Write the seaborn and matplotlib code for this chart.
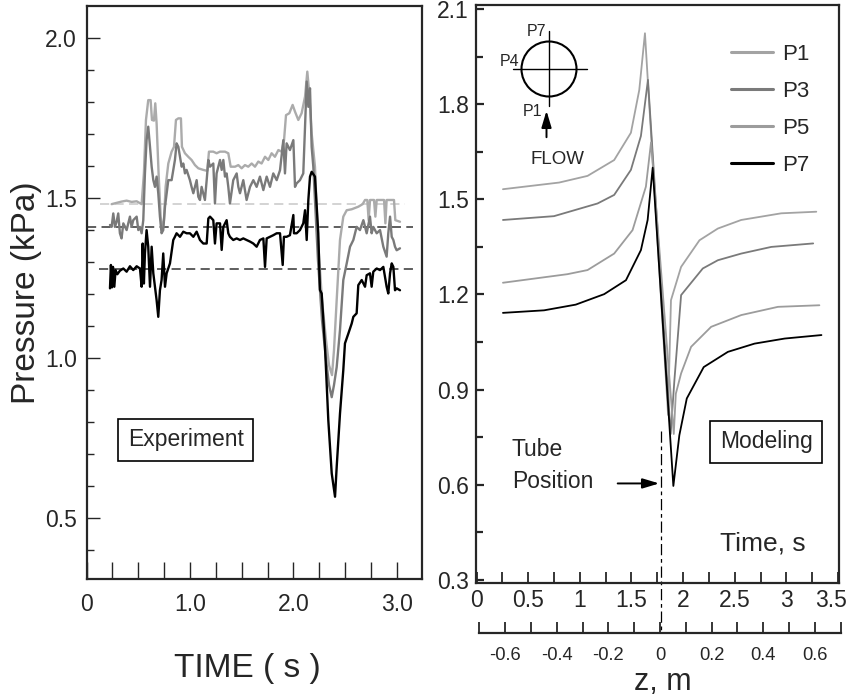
import numpy as np
import pandas as pd
import matplotlib
matplotlib.use("Agg")
import matplotlib.pyplot as plt
import seaborn as sns
from matplotlib.patches import Ellipse
from matplotlib.lines import Line2D
from matplotlib.transforms import ScaledTranslation

sns.set_style("ticks")
plt.rcParams['font.family'] = ['Liberation Sans', 'DejaVu Sans']

# ----------------------------- experiment data -----------------------------
exp_light_t = [0.242, 0.290, 0.338, 0.387, 0.435, 0.484, 0.532, 0.554, 0.574, 0.596, 0.619, 0.632,
               0.651, 0.664, 0.677, 0.696, 0.716, 0.732, 0.748, 0.764, 0.790, 0.822, 0.845, 0.864,
               0.887, 0.912, 0.922, 0.951, 0.983, 1.015, 1.048, 1.080, 1.128, 1.167, 1.183, 1.225,
               1.257, 1.290, 1.338, 1.370, 1.393, 1.435, 1.467, 1.499, 1.531, 1.563, 1.596, 1.628,
               1.660, 1.692, 1.725, 1.757, 1.789, 1.821, 1.854, 1.886, 1.909, 1.928, 1.960, 1.992,
               2.015, 2.047, 2.079, 2.112, 2.134, 2.153, 2.176, 2.208, 2.237, 2.276, 2.315, 2.344,
               2.373, 2.392, 2.418, 2.450, 2.482, 2.515, 2.563, 2.627, 2.669, 2.692, 2.714, 2.727,
               2.740, 2.779, 2.792, 2.805, 2.876, 2.889, 2.901, 2.972, 2.985, 3.030]
exp_light_p = [1.481, 1.485, 1.489, 1.492, 1.488, 1.490, 1.481, 1.577, 1.744, 1.806, 1.806, 1.744,
               1.742, 1.796, 1.733, 1.577, 1.442, 1.400, 1.431, 1.535, 1.608, 1.645, 1.660, 1.744,
               1.749, 1.749, 1.660, 1.640, 1.629, 1.619, 1.603, 1.593, 1.588, 1.585, 1.645, 1.645,
               1.640, 1.645, 1.645, 1.640, 1.598, 1.598, 1.603, 1.593, 1.603, 1.598, 1.608, 1.598,
               1.614, 1.608, 1.629, 1.619, 1.640, 1.629, 1.650, 1.645, 1.681, 1.759, 1.765, 1.791,
               1.770, 1.744, 1.765, 1.817, 1.895, 1.827, 1.702, 1.598, 1.369, 1.181, 1.056, 0.978,
               0.947, 1.025, 1.181, 1.369, 1.442, 1.462, 1.465, 1.473, 1.481, 1.494, 1.494, 1.431,
               1.494, 1.494, 1.442, 1.494, 1.494, 1.421, 1.494, 1.494, 1.431, 1.426]

exp_mid_t = [0.226, 0.242, 0.258, 0.274, 0.290, 0.306, 0.322, 0.338, 0.355, 0.387, 0.419, 0.435,
             0.451, 0.484, 0.500, 0.516, 0.532, 0.548, 0.564, 0.580, 0.596, 0.613, 0.629, 0.645,
             0.661, 0.677, 0.693, 0.709, 0.725, 0.741, 0.758, 0.790, 0.822, 0.854, 0.870, 0.887,
             0.903, 0.919, 0.935, 0.951, 0.967, 0.999, 1.015, 1.032, 1.064, 1.080, 1.096, 1.112,
             1.144, 1.161, 1.177, 1.193, 1.225, 1.241, 1.257, 1.290, 1.306, 1.322, 1.338, 1.354,
             1.370, 1.386, 1.418, 1.451, 1.467, 1.483, 1.515, 1.547, 1.580, 1.612, 1.644, 1.676,
             1.709, 1.741, 1.773, 1.805, 1.838, 1.870, 1.902, 1.918, 1.934, 1.966, 1.999, 2.015,
             2.031, 2.063, 2.095, 2.112, 2.128, 2.144, 2.160, 2.176, 2.192, 2.237, 2.276, 2.315,
             2.344, 2.370, 2.392, 2.418, 2.450, 2.482, 2.515, 2.547, 2.579, 2.611, 2.643, 2.676,
             2.708, 2.740, 2.756, 2.772, 2.805, 2.837, 2.869, 2.901, 2.917, 2.934, 2.950, 2.966,
             2.982, 2.998, 3.030]
exp_mid_p = [1.416, 1.410, 1.452, 1.410, 1.426, 1.452, 1.390, 1.374, 1.421, 1.400, 1.442, 1.410,
             1.431, 1.442, 1.400, 1.410, 1.390, 1.431, 1.577, 1.681, 1.723, 1.660, 1.598, 1.556,
             1.535, 1.567, 1.515, 1.442, 1.390, 1.400, 1.473, 1.556, 1.556, 1.619, 1.671, 1.660,
             1.629, 1.598, 1.608, 1.577, 1.588, 1.556, 1.535, 1.515, 1.556, 1.504, 1.494, 1.535,
             1.494, 1.556, 1.619, 1.598, 1.608, 1.483, 1.577, 1.619, 1.588, 1.619, 1.567, 1.577,
             1.535, 1.483, 1.556, 1.577, 1.535, 1.515, 1.556, 1.494, 1.535, 1.556, 1.535, 1.567,
             1.525, 1.567, 1.535, 1.577, 1.556, 1.587, 1.681, 1.577, 1.671, 1.650, 1.681, 1.535,
             1.546, 1.556, 1.577, 1.723, 1.864, 1.785, 1.843, 1.660, 1.598, 1.306, 1.119, 0.994,
             0.916, 0.878, 0.916, 0.972, 1.088, 1.244, 1.296, 1.348, 1.369, 1.410, 1.400, 1.431,
             1.390, 1.442, 1.390, 1.410, 1.390, 1.400, 1.348, 1.317, 1.390, 1.442, 1.379, 1.369,
             1.348, 1.337, 1.343]

exp_dark_t = [0.226, 0.235, 0.245, 0.255, 0.268, 0.280, 0.297, 0.322, 0.355, 0.387, 0.419, 0.451,
              0.484, 0.516, 0.532, 0.542, 0.554, 0.564, 0.580, 0.596, 0.613, 0.629, 0.645, 0.661,
              0.677, 0.693, 0.709, 0.725, 0.741, 0.758, 0.774, 0.806, 0.838, 0.854, 0.870, 0.903,
              0.935, 0.967, 0.999, 1.032, 1.064, 1.096, 1.128, 1.161, 1.177, 1.193, 1.225, 1.241,
              1.257, 1.290, 1.306, 1.322, 1.354, 1.370, 1.386, 1.418, 1.451, 1.483, 1.515, 1.547,
              1.580, 1.612, 1.644, 1.676, 1.709, 1.725, 1.741, 1.773, 1.805, 1.838, 1.870, 1.896,
              1.908, 1.934, 1.966, 1.999, 2.005, 2.031, 2.063, 2.095, 2.112, 2.128, 2.144, 2.160,
              2.176, 2.208, 2.240, 2.256, 2.273, 2.305, 2.337, 2.370, 2.402, 2.418, 2.450, 2.482,
              2.498, 2.531, 2.563, 2.579, 2.611, 2.627, 2.660, 2.692, 2.708, 2.740, 2.756, 2.772,
              2.805, 2.837, 2.869, 2.901, 2.917, 2.934, 2.950, 2.966, 2.982, 2.998, 3.030]
exp_dark_p = [1.218, 1.291, 1.221, 1.285, 1.223, 1.275, 1.262, 1.273, 1.280, 1.270, 1.287, 1.275,
              1.287, 1.280, 1.223, 1.358, 1.233, 1.327, 1.400, 1.348, 1.223, 1.348, 1.265, 1.223,
              1.181, 1.129, 1.212, 1.244, 1.327, 1.223, 1.265, 1.296, 1.369, 1.379, 1.390, 1.379,
              1.395, 1.390, 1.390, 1.379, 1.395, 1.369, 1.358, 1.358, 1.436, 1.442, 1.431, 1.358,
              1.421, 1.421, 1.338, 1.410, 1.431, 1.390, 1.379, 1.369, 1.374, 1.369, 1.374, 1.369,
              1.364, 1.358, 1.348, 1.369, 1.374, 1.285, 1.374, 1.379, 1.384, 1.390, 1.390, 1.291,
              1.379, 1.379, 1.384, 1.447, 1.390, 1.390, 1.400, 1.421, 1.462, 1.369, 1.494, 1.567,
              1.582, 1.567, 1.390, 1.213, 1.202, 1.035, 0.806, 0.640, 0.567, 0.660, 0.827, 0.963,
              1.046, 1.077, 1.108, 1.129, 1.140, 1.228, 1.244, 1.223, 1.259, 1.265, 1.223, 1.270,
              1.280, 1.275, 1.285, 1.223, 1.202, 1.265, 1.296, 1.285, 1.212, 1.218, 1.212]

# mean levels (dashed) : level, start time, end time
ref_levels = [1.481, 1.409, 1.279]
ref_start = [0.13, 0.0, 0.12]
ref_end = [3.08, 3.16, 3.16]

# ------------------------------ model data --------------------------------
model_P1_t = [0.256, 0.80, 1.075, 1.333, 1.495, 1.576, 1.631, 1.855, 1.863, 1.883, 1.981, 2.159, 2.337, 2.563, 2.951, 3.29]
model_P1_p = [1.532, 1.553, 1.574, 1.624, 1.710, 1.845, 2.024, 0.82, 0.93, 1.182, 1.287, 1.371, 1.408, 1.435, 1.456, 1.461]
model_P3_t = [0.256, 0.75, 1.172, 1.333, 1.495, 1.592, 1.66, 1.88, 1.916, 1.981, 2.191, 2.337, 2.563, 2.854, 3.26]
model_P3_p = [1.435, 1.447, 1.487, 1.514, 1.593, 1.70, 1.877, 0.76, 0.929, 1.198, 1.282, 1.308, 1.329, 1.350, 1.361]
model_P5_t = [0.256, 0.88, 1.075, 1.333, 1.511, 1.64, 1.69, 1.91, 1.93, 1.981, 2.078, 2.272, 2.563, 2.919, 3.32]
model_P5_p = [1.237, 1.264, 1.277, 1.329, 1.403, 1.54, 1.68, 0.76, 0.887, 0.951, 1.035, 1.098, 1.135, 1.161, 1.166]
model_P7_t = [0.256, 0.654, 0.961, 1.236, 1.447, 1.592, 1.657, 1.706, 1.906, 1.964, 2.036, 2.2, 2.434, 2.692, 2.984, 3.34]
model_P7_p = [1.142, 1.150, 1.168, 1.201, 1.245, 1.340, 1.435, 1.600, 0.596, 0.756, 0.872, 0.971, 1.019, 1.045, 1.061, 1.072]

tube_time = 1.786
z_ticks = [-0.7, -0.6, -0.5, -0.4, -0.3, -0.2, -0.1, 0.0, 0.1, 0.2, 0.3, 0.4, 0.5, 0.6, 0.7]
z_labels = ['-0.6', '-0.4', '-0.2', '0', '0.2', '0.4', '0.6']

exp_df = pd.concat([
    pd.DataFrame({'t': exp_light_t, 'p': exp_light_p, 's': 'light'}),
    pd.DataFrame({'t': exp_mid_t, 'p': exp_mid_p, 's': 'mid'}),
    pd.DataFrame({'t': exp_dark_t, 'p': exp_dark_p, 's': 'dark'}),
])
mod_df = pd.concat([
    pd.DataFrame({'t': model_P1_t, 'p': model_P1_p, 's': 'P1'}),
    pd.DataFrame({'t': model_P3_t, 'p': model_P3_p, 's': 'P3'}),
    pd.DataFrame({'t': model_P5_t, 'p': model_P5_p, 's': 'P5'}),
    pd.DataFrame({'t': model_P7_t, 'p': model_P7_p, 's': 'P7'}),
])

W, H = 849, 697
fig = plt.figure(figsize=(W / 100, H / 100), dpi=100)


def fx(x):
    return x / W


def fy(y):
    return 1 - y / H


# ------------------------------ Experiment --------------------------------
ax1 = fig.add_axes([fx(86.6), fy(579), fx(421.7 - 86.6), (579 - 6) / H])
sns.lineplot(data=exp_df, x='t', y='p', hue='s', estimator=None, sort=False,
             palette={'light': '#ababab', 'mid': '#7a7a7a', 'dark': '#000000'},
             linewidth=1.7, legend=False, ax=ax1)
ref_colors = ['#c8c8c8', '#333333', '#333333']
for lev, t0, t1, c in zip(ref_levels, ref_start, ref_end, ref_colors):
    ax1.plot([t0, t1], [lev, lev], color=c, lw=1.1, dashes=(6, 3.5), zorder=1)
ax1.set_xlim(0, 3.24)
ax1.set_ylim(0.31, 2.1)
ax1.set_xticks([0, 1, 2, 3])
ax1.set_xticklabels(['0', '1.0', '2.0', '3.0'])
ax1.set_xticks(np.arange(0.25, 3.2, 0.25), minor=True)
ax1.set_yticks([0.5, 1.0, 1.5, 2.0])
ax1.set_yticklabels(['0.5', '1.0', '1.5', '2.0'])
ax1.set_yticks(np.arange(0.4, 2.1, 0.1), minor=True)
ax1.tick_params(axis='x', which='both', direction='in', length=12, width=1, labelsize=16.5, pad=10,
                top=False)
ax1.tick_params(axis='y', which='major', direction='in', length=9, width=1, labelsize=16.5, pad=7,
                right=False)
ax1.tick_params(axis='y', which='minor', direction='in', length=5, width=1, right=False)
ax1.set_xlabel('')
ax1.set_ylabel('')
for sp in ax1.spines.values():
    sp.set_linewidth(1.6)
    sp.set_visible(True)
ax1.text(0.296, 0.243, 'Experiment', transform=ax1.transAxes, ha='center', va='center',
         fontsize=16.5, bbox=dict(boxstyle='square,pad=0.42', fc='white', ec='black', lw=1.2))
fig.text(fx(27), fy(293), 'Pressure (kPa)', rotation=90, ha='center', va='center', fontsize=24)
fig.text(fx(247), fy(668), 'TIME ( s )', ha='center', va='center', fontsize=24)

# ------------------------------ Modeling ----------------------------------
ax2 = fig.add_axes([fx(476), fy(583), fx(839 - 476), (583 - 5) / H])
sns.lineplot(data=mod_df, x='t', y='p', hue='s', estimator=None, sort=False,
             palette={'P1': '#a3a3a3', 'P3': '#7a7a7a', 'P5': '#9c9c9c', 'P7': '#000000'},
             linewidth=1.3, ax=ax2)
ax2.set_xlim(-0.005, 3.51)
ax2.set_ylim(0.29, 2.113)
ax2.set_xticks(np.arange(0, 3.6, 0.5))
ax2.set_xticklabels(['0', '0.5', '1', '1.5', '2', '2.5', '3', '3.5'])
ax2.set_xticks(np.arange(0.25, 3.5, 0.5), minor=True)
ax2.set_yticks(np.arange(0.3, 2.11, 0.3))
ax2.set_yticklabels(['0.3', '0.6', '0.9', '1.2', '1.5', '1.8', '2.1'])
ax2.set_yticks(np.arange(0.45, 2.1, 0.3), minor=True)
ax2.tick_params(axis='x', which='both', direction='in', length=8, width=1.3, labelsize=16.5, pad=4,
                top=False)
ax2.tick_params(axis='y', which='major', direction='in', length=6, width=1.6, labelsize=16.5, pad=5,
                right=False)
ax2.tick_params(axis='y', which='minor', direction='in', length=5, width=1.6, right=False)
ax2.set_xlabel('')
ax2.set_ylabel('')
for sp in ax2.spines.values():
    sp.set_linewidth(1.6)
    sp.set_visible(True)
# last time label sits tight against the frame
last_lab = ax2.get_xticklabels()[-1]
last_lab.set_transform(last_lab.get_transform() + ScaledTranslation(-0.07, 0, fig.dpi_scale_trans))

leg = ax2.legend(loc='upper right', bbox_to_anchor=(0.975, 0.967), frameon=False, fontsize=16,
                 handlelength=1.85, handletextpad=0.45, labelspacing=0.72)
for line in leg.get_lines():
    line.set_linewidth(2.2)

ax2.text(0.80, 0.244, 'Modeling', transform=ax2.transAxes, ha='center', va='center',
         fontsize=16.5, bbox=dict(boxstyle='square,pad=0.42', fc='white', ec='black', lw=1.2))
fig.text(fx(720), fy(544), 'Time, s', ha='left', va='center', fontsize=19)
fig.text(fx(512), fy(450), 'Tube', ha='left', va='center', fontsize=16.5)
fig.text(fx(512), fy(482), 'Position', ha='left', va='center', fontsize=16.5)
ax2.annotate('', xy=(tube_time + 0.01, 0.604), xytext=(1.34, 0.604),
             arrowprops=dict(arrowstyle='-|>,head_length=1.0,head_width=0.3', color='black', lw=1.4))

# tube position line, runs down to the z axis
p_bottom = ax2.transData.inverted().transform(ax2.transAxes.transform((0, 0)))[1]
p_z = p_bottom - (633 - 583) / (578 / (2.113 - 0.29))
ax2.plot([tube_time, tube_time], [0.77, p_z], color='black', lw=0.9, dashes=(9, 3, 3, 3),
         clip_on=False)

# inset sketch: tube cross-section
fig.patches.append(Ellipse((fx(549), fy(69)), 2 * 27.5 / W, 2 * 27.5 / H, transform=fig.transFigure,
                           fill=False, ec='black', lw=1.5))
fig.lines.append(Line2D([fx(513), fx(587)], [fy(69), fy(69)], transform=fig.transFigure, color='black', lw=1))
fig.lines.append(Line2D([fx(548.5), fx(548.5)], [fy(31), fy(106)], transform=fig.transFigure, color='black', lw=1))
fig.text(fx(537), fy(32), 'P7', ha='center', va='center', fontsize=11.5)
fig.text(fx(510), fy(61), 'P4', ha='center', va='center', fontsize=11.5)
fig.text(fx(532), fy(111), 'P1', ha='center', va='center', fontsize=11.5)
fig.text(fx(557), fy(160), 'FLOW', ha='center', va='center', fontsize=13.5)
ax2.annotate('', xy=(fx(546.5), fy(108)), xytext=(fx(546.5), fy(140)), xycoords='figure fraction',
             textcoords='figure fraction',
             arrowprops=dict(arrowstyle='-|>,head_length=1.0,head_width=0.3', color='black', lw=1.4))

# ------------------------------ z axis ------------------------------------
axz = fig.add_axes([fx(479.3), fy(633), fx(840.7 - 479.3), 0.0001])
axz.set_xlim(-0.7, 0.7)
axz.set_ylim(0, 1)
axz.set_xticks(z_ticks, minor=True)
axz.set_xticks([-0.6, -0.4, -0.2, 0.0, 0.2, 0.4, 0.6])
axz.set_xticklabels(z_labels)
axz.set_yticks([])
axz.tick_params(axis='x', which='both', direction='in', length=8, width=1.3, labelsize=13.2, pad=10)
for k in ['top', 'left', 'right']:
    axz.spines[k].set_visible(False)
axz.spines['bottom'].set_linewidth(1.6)
axz.patch.set_alpha(0)
fig.text(fx(663), fy(682), 'z, m', ha='center', va='center', fontsize=22)

fig.savefig('out.png', dpi=100)
